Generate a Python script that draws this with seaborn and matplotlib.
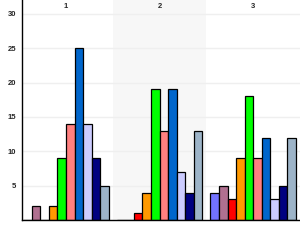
import matplotlib
matplotlib.use("Agg")
import matplotlib.pyplot as plt
import seaborn as sns
import pandas as pd

groups = ["1", "2", "3"]
series = ["A", "B", "C", "D", "E", "F", "G", "H", "I", "J"]
colors = ["#7373ff", "#b07090", "#ff0000", "#ff9900", "#00ff00",
          "#ff8080", "#0066cc", "#ccccff", "#000080", "#9db4c8"]
values_g1 = [0, 2, 0, 2, 9, 14, 25, 14, 9, 5]
values_g2 = [0, 0, 1, 4, 19, 13, 19, 7, 4, 13]
values_g3 = [4, 5, 3, 9, 18, 9, 12, 3, 5, 12]
yticks = [5, 10, 15, 20, 25, 30]

rows = []
for g, vals in zip(groups, [values_g1, values_g2, values_g3]):
    for s, v in zip(series, vals):
        rows.append({"group": g, "series": s, "value": v})
df = pd.DataFrame(rows)

sns.set_style("white")
plt.rcParams["font.family"] = ["Liberation Sans Narrow", "Liberation Sans", "DejaVu Sans"]

fig = plt.figure(figsize=(3.0, 2.4), dpi=100)
ax = fig.add_axes([0.0733, 0.0833, 0.9267, 0.9167])

ax.axvspan(0.5, 1.5, color="#f7f7f7", zorder=0, lw=0)
for t in yticks:
    ax.axhline(t, color="#efefef", lw=1, zorder=0.5)

sns.barplot(data=df, x="group", y="value", hue="series", palette=colors,
            saturation=1, width=0.915, edgecolor="black", linewidth=0.9,
            legend=False, ax=ax, zorder=2)

ax.set_xlim(-0.47, 2.5)
ax.set_ylim(0, 32)
ax.set_yticks(yticks)
ax.set_yticklabels([str(t) for t in yticks], fontsize=5.5, fontweight="bold")
ax.set_xticks([])
ax.set_xlabel("")
ax.set_ylabel("")
ax.tick_params(axis="y", length=0, pad=4)
for i, g in enumerate(groups):
    ax.text(i, 31, g, ha="center", va="center", fontsize=5.5, fontweight="bold")

for side in ["top", "right"]:
    ax.spines[side].set_visible(False)
ax.spines["left"].set_color("black")
ax.spines["bottom"].set_color("black")
ax.spines["left"].set_linewidth(1)
ax.spines["bottom"].set_linewidth(1)

fig.savefig("out.png", dpi=100, facecolor="white")
